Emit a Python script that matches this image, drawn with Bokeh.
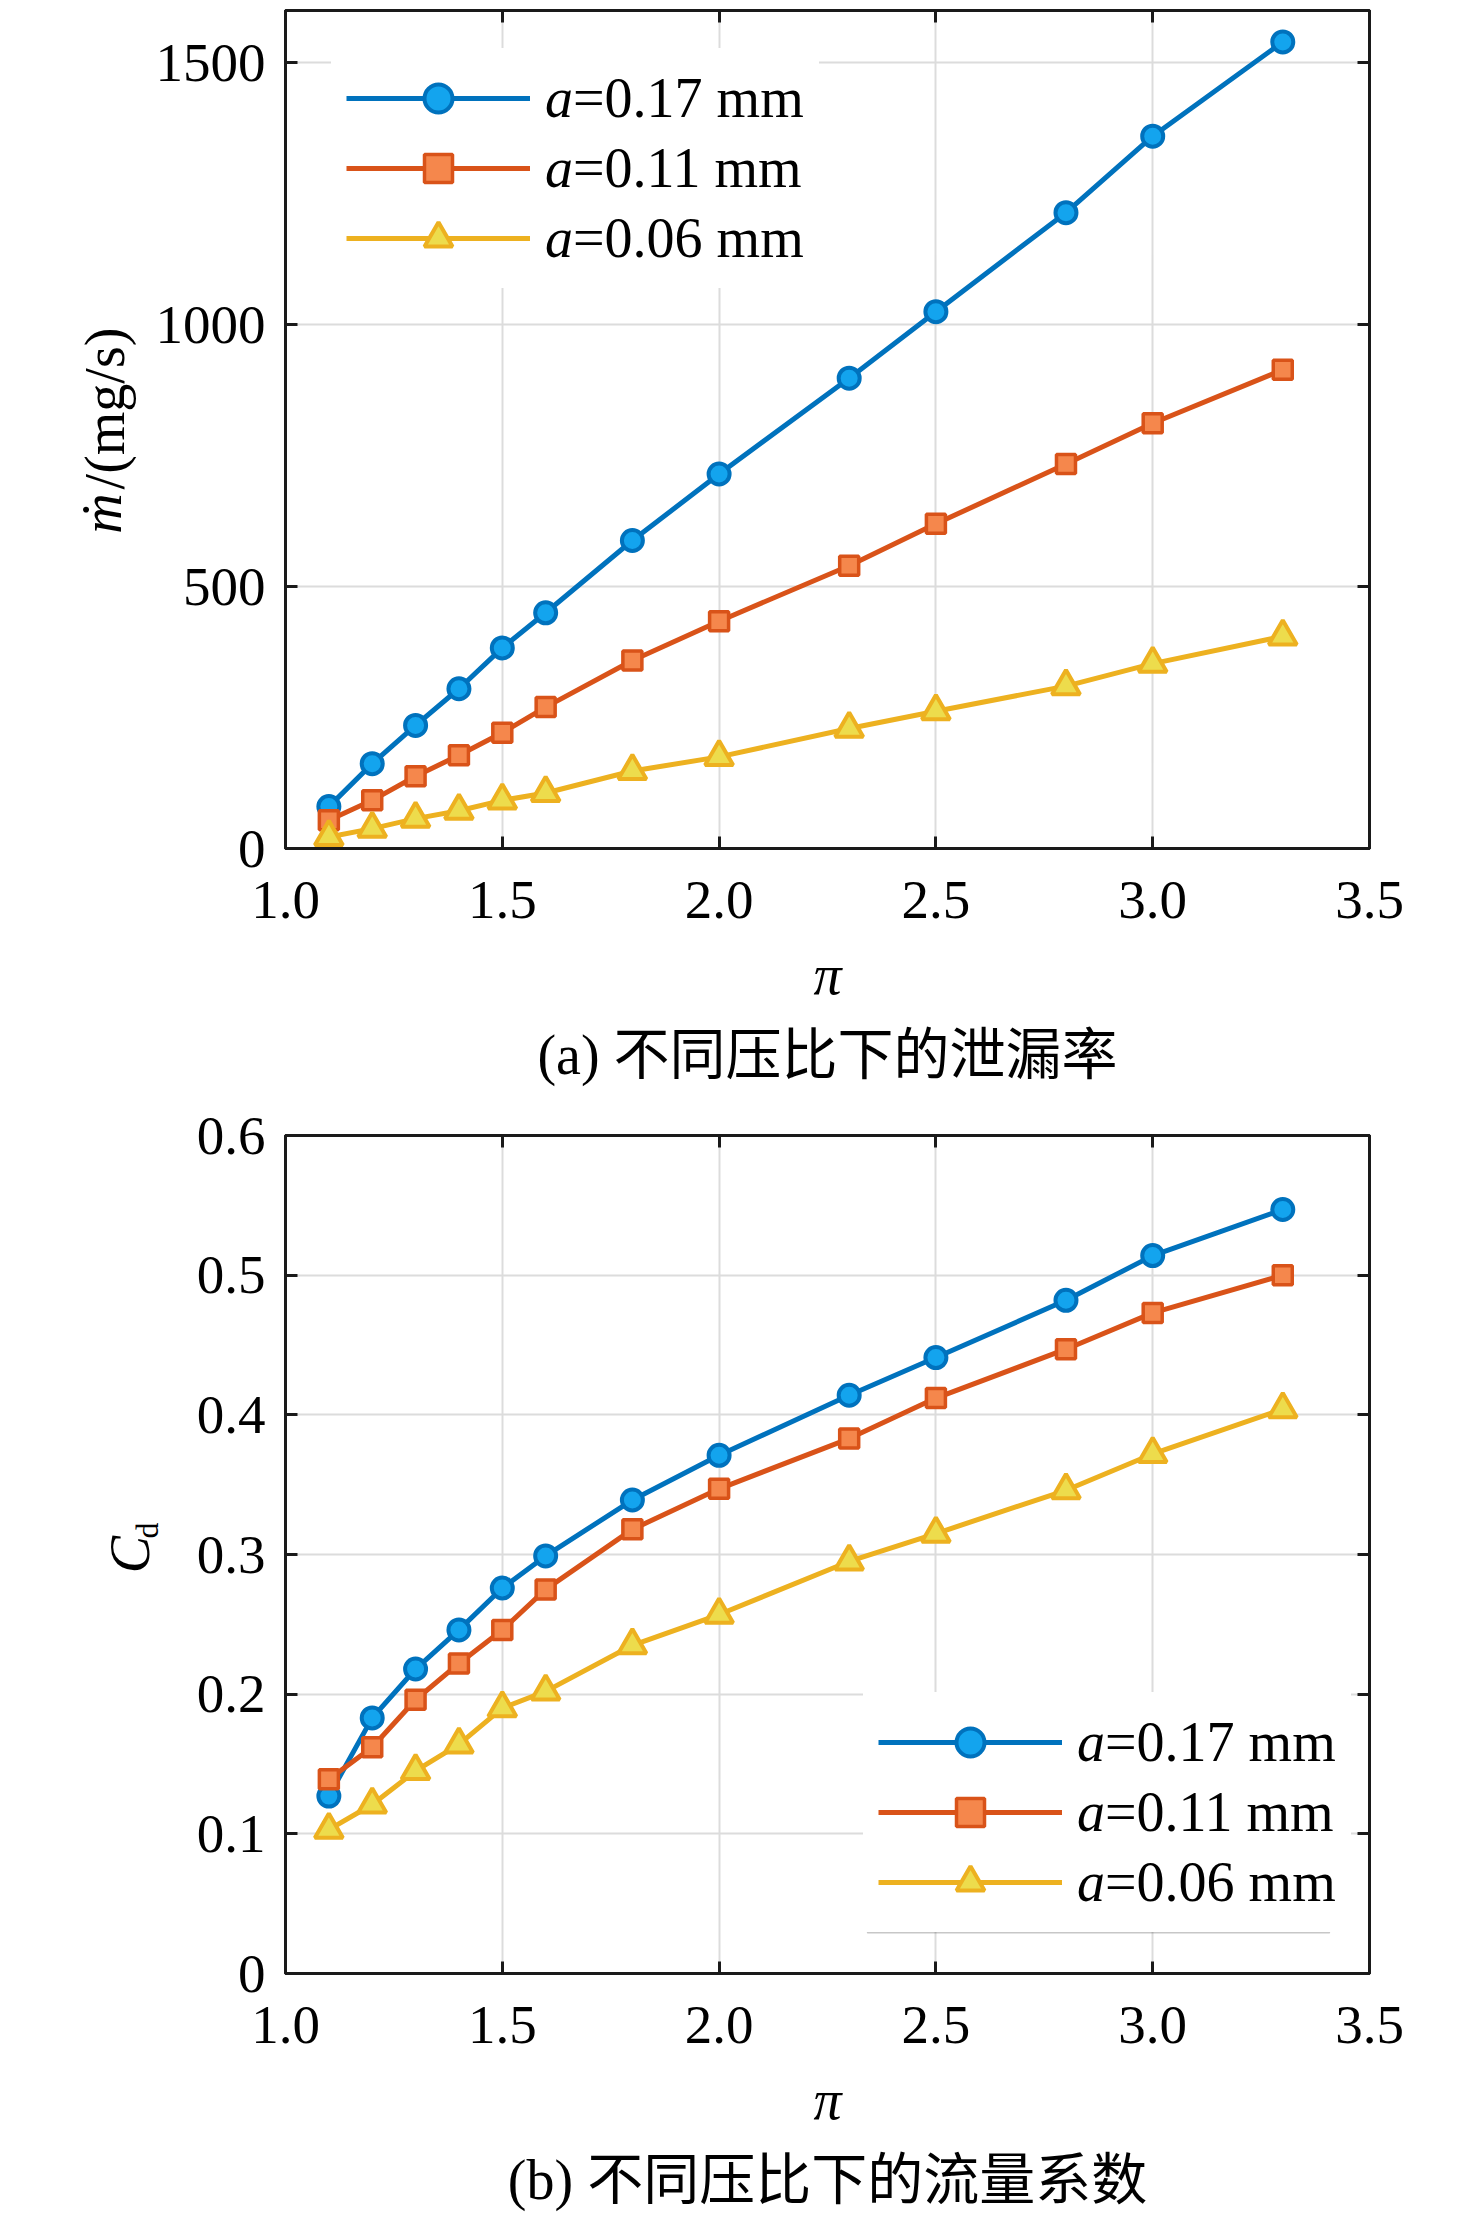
from bokeh.plotting import figure
from bokeh.models import (Range1d, FixedTicker, LinearAxis, Legend, LegendItem,
                          BoxAnnotation, Title)
from bokeh.layouts import column
from bokeh.embed import file_html
from bokeh.resources import INLINE

# ---------------- data ----------------
pi_ratio = [1.1, 1.2, 1.3, 1.4, 1.5, 1.6, 1.8, 2.0, 2.3, 2.5, 2.8, 3.0, 3.3]

mdot_017 = [80, 162, 235, 305, 383, 450, 588, 715, 898, 1025, 1214, 1360, 1540]
mdot_011 = [54, 92, 138, 178, 221, 270, 359, 434, 540, 620, 734, 812, 914]
mdot_006 = [22, 38, 57, 72, 92, 106, 148, 175, 229, 262, 310, 353, 405]

cd_017 = [0.127, 0.183, 0.218, 0.246, 0.276, 0.299, 0.339, 0.371, 0.414, 0.441, 0.482, 0.514, 0.547]
cd_011 = [0.139, 0.162, 0.196, 0.222, 0.246, 0.275, 0.318, 0.347, 0.383, 0.412, 0.447, 0.473, 0.500]
cd_006 = [0.103, 0.121, 0.145, 0.164, 0.190, 0.202, 0.235, 0.257, 0.295, 0.315, 0.346, 0.372, 0.404]

series_names = ["=0.17 mm", "=0.11 mm", "=0.06 mm"]
series_symbol = "a"

x_ticks = [1.0, 1.5, 2.0, 2.5, 3.0, 3.5]
x_tick_labels = ["1.0", "1.5", "2.0", "2.5", "3.0", "3.5"]
mdot_ticks = [0, 500, 1000, 1500]
mdot_tick_labels = ["0", "500", "1000", "1500"]
cd_ticks = [0, 0.1, 0.2, 0.3, 0.4, 0.5, 0.6]
cd_tick_labels = ["0", "0.1", "0.2", "0.3", "0.4", "0.5", "0.6"]

caption_a = "(a) 不同压比下的泄漏率"
caption_b = "(b) 不同压比下的流量系数"

NBSP = "\u00a0"

# ---------------- style ----------------
SERIF = "Liberation Serif"
CAPTION_FONT = "Liberation Serif, Noto Sans CJK SC"
FS = "56px"
LINE_COLORS = ["#0072BD", "#D95319", "#EDB120"]
FILL_COLORS = ["#13A4EE", "#F5874C", "#EDDC4C"]
MARKERS = ["circle", "square", "triangle"]
MSIZES = [21, 19, 28]
MLW = [4, 3.5, 4]

FW, FH = 1084, 838           # frame size
FL = 285                      # frame left on page
X0, X1 = 1.0, 3.5
PAGE_W = 1455


def style_axis(ax, labels_visible=True):
    ax.axis_line_width = 3
    ax.axis_line_color = "#1a1a1a"
    ax.major_tick_in = 12
    ax.major_tick_out = 0
    ax.major_tick_line_width = 3
    ax.major_tick_line_color = "#1a1a1a"
    ax.minor_tick_in = 0
    ax.minor_tick_out = 0
    ax.major_label_text_font = SERIF
    if labels_visible:
        ax.major_label_text_font_size = "55px"
        ax.major_label_text_color = "black"
    else:
        ax.major_label_text_font_size = "1px"
        ax.major_label_text_color = None
        ax.major_label_standoff = 0


def label_axis(p, text, font_size, style, standoff):
    """An extra left axis carrying only a (part of a) y-axis title."""
    ax = LinearAxis(ticker=FixedTicker(ticks=[]),
                    axis_line_color=None, major_tick_line_color=None,
                    minor_tick_line_color=None, major_label_text_font_size="1px",
                    major_label_text_color=None, major_tick_in=0, major_tick_out=0,
                    minor_tick_in=0, minor_tick_out=0, major_label_standoff=0,
                    axis_label=text, axis_label_text_font=SERIF,
                    axis_label_text_font_size=font_size, axis_label_text_font_style=style,
                    axis_label_text_color="black", axis_label_standoff=standoff)
    p.add_layout(ax, "left")
    return ax


def make_panel(ys, ymax, yticks, ylabels, height, top_border, legend_px, caption):
    p = figure(width=PAGE_W, height=height, output_backend="svg", toolbar_location=None,
               x_range=Range1d(X0, X1), y_range=Range1d(0, ymax),
               min_border_left=FL, min_border_right=PAGE_W - FL - FW,
               min_border_top=top_border, min_border_bottom=height - top_border - FH)
    p.background_fill_color = "white"
    p.border_fill_color = "white"
    p.outline_line_color = "#1a1a1a"
    p.outline_line_width = 3

    xt = FixedTicker(ticks=x_ticks)
    yt = FixedTicker(ticks=yticks)
    p.xaxis.ticker = xt
    p.yaxis.ticker = yt
    p.xaxis.major_label_overrides = {t: l for t, l in zip(x_ticks, x_tick_labels)}
    p.yaxis.major_label_overrides = {t: l for t, l in zip(yticks, ylabels)}
    for ax in p.xaxis:
        style_axis(ax)
        ax.major_label_standoff = 33
        ax.axis_label = "π"
        ax.axis_label_text_font = SERIF
        ax.axis_label_text_font_size = FS
        ax.axis_label_text_font_style = "italic"
        ax.axis_label_text_color = "black"
        ax.axis_label_standoff = 23
    for ax in p.yaxis:
        style_axis(ax)
        ax.major_label_standoff = 20

    top_ax = LinearAxis(ticker=FixedTicker(ticks=x_ticks))
    style_axis(top_ax, labels_visible=False)
    p.add_layout(top_ax, "above")
    right_ax = LinearAxis(ticker=FixedTicker(ticks=yticks))
    style_axis(right_ax, labels_visible=False)
    p.add_layout(right_ax, "right")

    p.xgrid.ticker = xt
    p.ygrid.ticker = yt
    for g in (p.xgrid, p.ygrid):
        g.grid_line_color = "#DCDCDC"
        g.grid_line_width = 2

    items, sym_items = [], []
    for i, y in enumerate(ys):
        ln = p.line(pi_ratio, y, line_color=LINE_COLORS[i], line_width=5, line_join="round")
        sc = p.scatter(pi_ratio, y, marker=MARKERS[i], size=MSIZES[i],
                       fill_color=FILL_COLORS[i], line_color=LINE_COLORS[i], line_width=MLW[i])
        items.append(LegendItem(label=series_names[i], renderers=[ln, sc]))
        ghost = p.line(pi_ratio, y, line_alpha=0)
        sym_items.append(LegendItem(label=series_symbol, renderers=[ghost]))

    lg_left_px, lg_top_px, frame_bottom_px = legend_px
    loc = (lg_left_px - FL, frame_bottom_px - (lg_top_px + 240))
    common = dict(location=loc, orientation="vertical", padding=15, spacing=0, margin=0,
                  glyph_width=184, glyph_height=70, label_height=70,
                  label_text_font=SERIF, label_text_font_size=FS, label_text_color="black",
                  border_line_alpha=0)
    legend = Legend(items=items, label_standoff=43, background_fill_color="white",
                    background_fill_alpha=1.0, **common)
    p.add_layout(legend)
    sym_legend = Legend(items=sym_items, label_standoff=15, label_text_font_style="italic",
                        background_fill_alpha=0.0, **common)
    p.add_layout(sym_legend)

    p.add_layout(Title(text=caption, align="center", text_font=CAPTION_FONT,
                       text_font_size=FS, text_font_style="normal", text_color="black",
                       standoff=27), "below")
    return p


def py2y(py, frame_bottom, ymax):
    return (frame_bottom - py) * ymax / FH


# ---------------- panel (a) ----------------
B1 = 848
H1 = B1 + 256
YM1 = 1600
p1 = make_panel([mdot_017, mdot_011, mdot_006], YM1, mdot_ticks, mdot_tick_labels,
                height=H1, top_border=10, legend_px=(331, 48, B1), caption=caption_a)
# y title: "/(mg/s)" upright, then italic "ṁ" laid on the same baseline
# (no-break spaces shift each part along the axis from the centred position)
label_axis(p1, NBSP * 3 + "/(mg/s)", FS, "normal", 17)
label_axis(p1, "ṁ" + NBSP * 12, FS, "italic", -62)

# ---------------- panel (b) ----------------
B2 = 1973
T2 = 1135
H2 = B2 + 264 - H1
YM2 = 0.6
p2 = make_panel([cd_017, cd_011, cd_006], YM2, cd_ticks, cd_tick_labels,
                height=H2, top_border=T2 - H1, legend_px=(863, 1692, B2), caption=caption_b)

# thin line under the legend box
p2.add_layout(BoxAnnotation(left=X0 + (867 - FL) * (X1 - X0) / FW,
                            right=X0 + (1329 - FL) * (X1 - X0) / FW,
                            top=py2y(1931.5, B2, YM2), bottom=py2y(1932.5, B2, YM2),
                            fill_alpha=0, line_color="#444444", line_width=1.2))
# y title C_d : subscript "d" closer to the axis, italic "C" overlapping slightly
label_axis(p2, NBSP * 6 + "d", "32px", "normal", 29)
label_axis(p2, "C", FS, "italic", -35)

layout = column(p1, p2)
open("out.html", "w").write(file_html(layout, INLINE))
